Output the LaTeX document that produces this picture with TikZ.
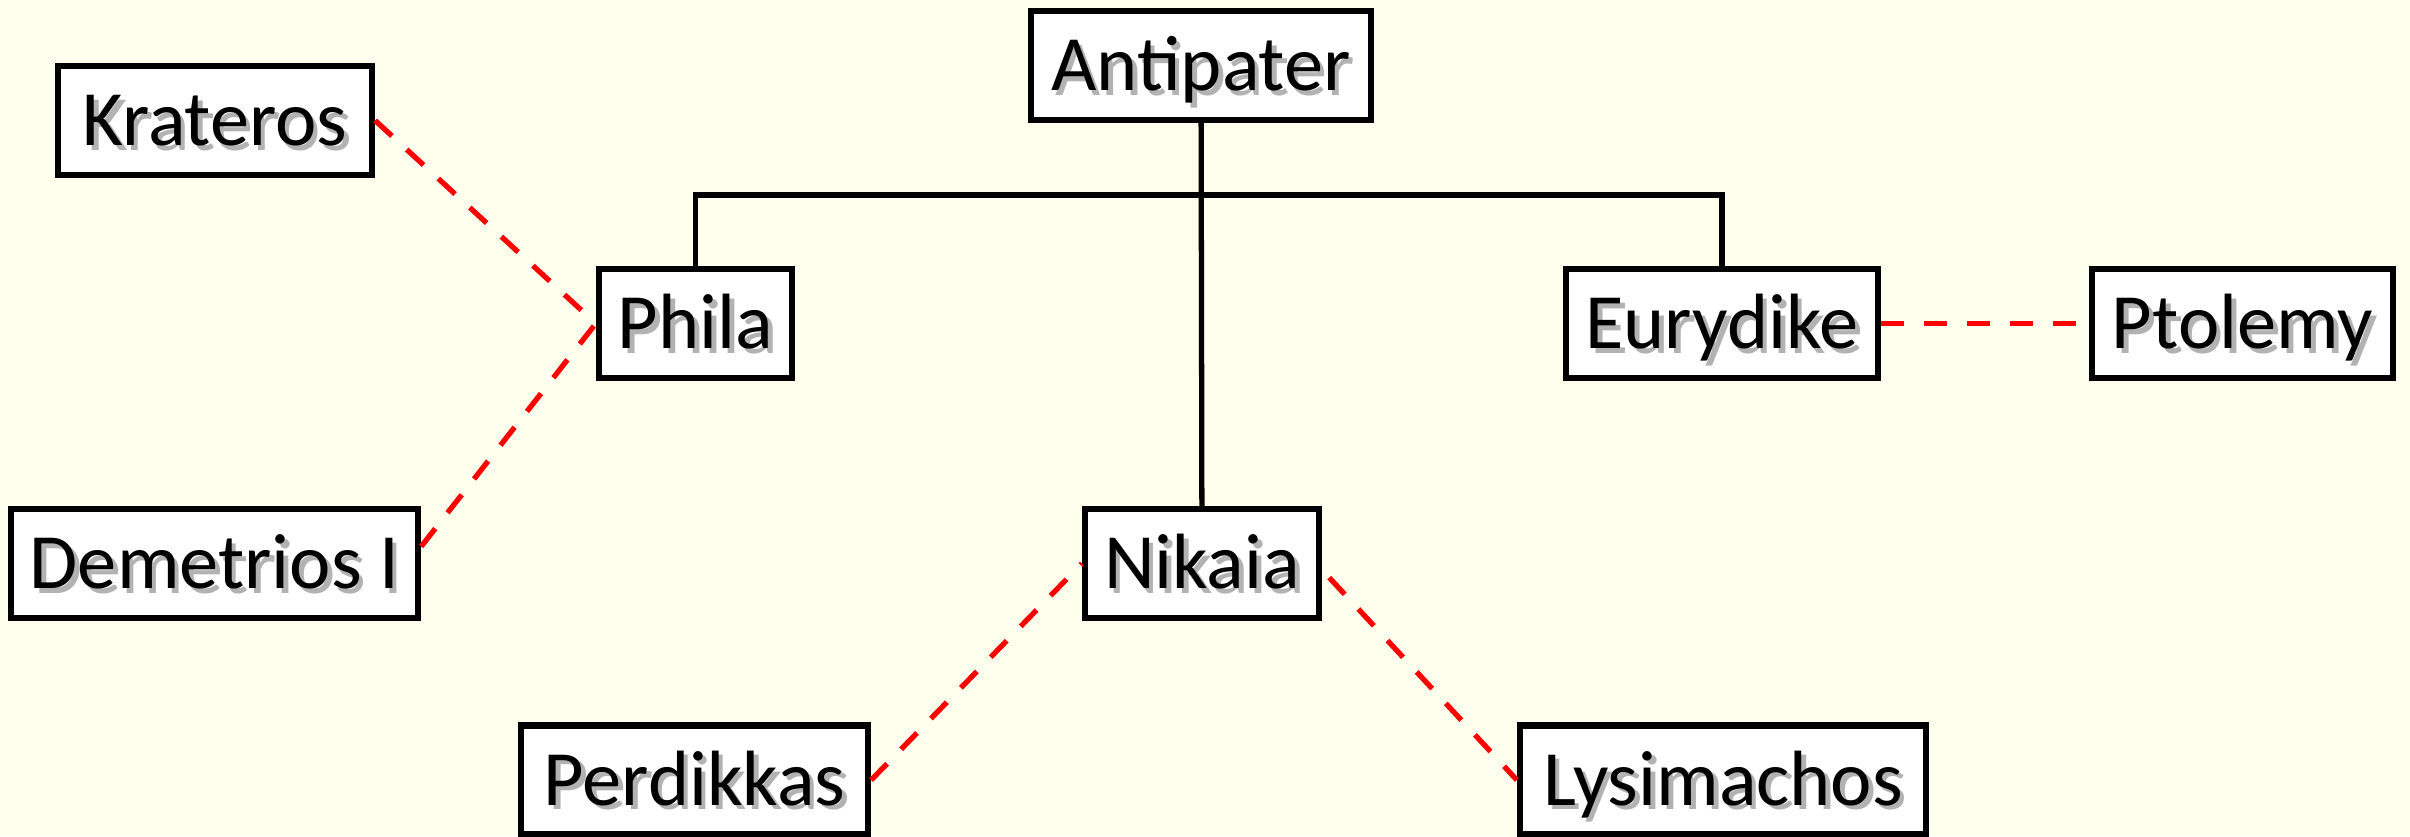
\documentclass[tikz,border=0pt]{standalone}
\usepackage{fontspec}
\setmainfont{Carlito}
\usetikzlibrary{positioning}
\definecolor{cream}{HTML}{FFFFEE}
\definecolor{wedred}{HTML}{FF0000}
\newcommand{\Sname}[1]{\rlap{\kern1.3pt\raisebox{-1.3pt}{\textcolor{black!30}{#1}}}#1}
\tikzset{person/.style={draw=black,line width=1.8pt,fill=white,minimum height=1.09cm,inner xsep=0pt,
  text height=14.3pt,text depth=0pt,font=\fontsize{22.3}{25}\selectfont}}
\tikzset{kin/.style={line width=1.5pt,black},
  wed/.style={line width=1.5pt,wedred,dash pattern=on 6.5pt off 5.7pt}}

\begin{document}
\begin{tikzpicture}
\fill[cream] (0,0) rectangle (24.10,-8.36);
\useasboundingbox (0,0) rectangle (24.10,-8.36);
% \draw[help lines] (0,0) grid (24,-8);
\node (anti) [person,minimum width=3.40cm] at (12.01,-0.655) {\Sname{Antipater}};
\node (krat) [person,minimum width=3.14cm] at (2.15,-1.205) {\Sname{Krateros}};
\node (phila) [person,minimum width=1.93cm] at (6.955,-3.235) {\Sname{Phila}};
\node (eury) [person,minimum width=3.12cm] at (17.22,-3.235) {\Sname{Eurydike}};
\node (ptol) [person,minimum width=3.01cm] at (22.425,-3.235) {\Sname{Ptolemy}};
\node (deme) [person,minimum width=4.07cm] at (2.145,-5.635) {\Sname{Demetrios I}};
\node (nika) [person,minimum width=2.34cm] at (12.02,-5.635) {\Sname{Nikaia}};
\node (perd) [person,minimum width=3.47cm] at (6.945,-7.80) {\Sname{Perdikkas}};
\node (lysi) [person,minimum width=4.06cm] at (17.23,-7.80) {\Sname{Lysimachos}};
\coordinate (bar) at (12.01,-1.95);
%
\draw[kin] (anti) -- (nika);
\draw[kin] (phila.north) -- (phila.north |- bar) -- (eury.north |- bar) -- (eury.north);
%
\path[wed] (krat.east) edge (phila.west);
\path[wed] ([yshift=0.17cm]deme.east) edge (phila.west);
\path[wed] (eury.east) edge (ptol.west);
\path[wed] (perd.east) edge (nika.west);
\path[wed] ([xshift=2pt,yshift=-4pt]nika.east) edge (lysi.west);
\end{tikzpicture}
\end{document}
